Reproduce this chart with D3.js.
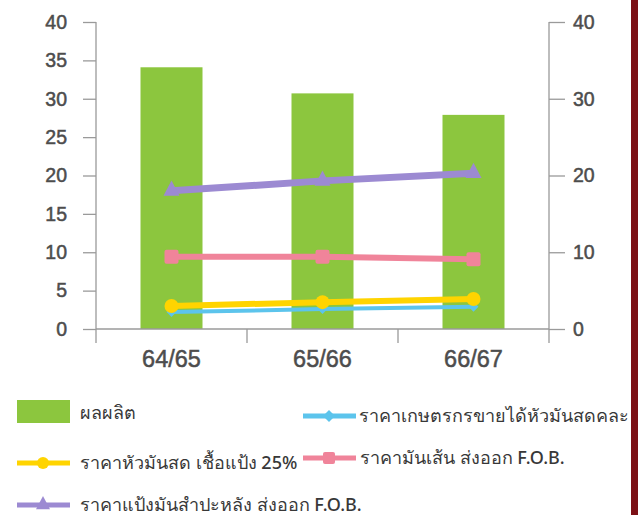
<!DOCTYPE html>
<html><head><meta charset="utf-8">
<script src="https://cdn.jsdelivr.net/npm/d3@7"></script>
<style>
html,body{margin:0;padding:0;background:#fff;}
svg{display:block;}
.num{font-family:"Liberation Sans",Arial,sans-serif;}
.leg{font-family:"Noto Sans","Liberation Sans",sans-serif;}
</style></head>
<body>
<script>
const categories = ["64/65","65/66","66/67"];
const production = [34.1, 30.7, 27.9];
const farmPrice = [2.2, 2.6, 2.9];
const freshRootPrice = [3.0, 3.5, 3.9];
const chipPrice = [9.4, 9.4, 9.1];
const starchPrice = [18.0, 19.3, 20.3];
const leftTicks = [0,5,10,15,20,25,30,35,40];
const rightTicks = [0,10,20,30,40];
const lineSeries = [
  {name:"ราคาเกษตรกรขายได้หัวมันสดคละ", values: farmPrice, color:"#5cc4ec", width:4, marker:"diamond"},
  {name:"ราคาหัวมันสด เชื้อแป้ง 25%", values: freshRootPrice, color:"#ffd400", width:6, marker:"circle"},
  {name:"ราคามันเส้น ส่งออก F.O.B.", values: chipPrice, color:"#f0849a", width:6, marker:"square"},
  {name:"ราคาแป้งมันสำปะหลัง ส่งออก F.O.B.", values: starchPrice, color:"#9c8ad2", width:7, marker:"triangle"}
];
const barName = "ผลผลิต";

const W = 638, H = 515;
const svg = d3.select("body").append("svg").attr("width", W).attr("height", H);
svg.append("rect").attr("x",0).attr("y",0).attr("width",W).attr("height",H).attr("fill","#fff");

const x0 = 96, x1 = 549, yTop = 22, yBot = 329;
const x = d3.scaleBand().domain(categories).range([x0, x1]).paddingInner(0).paddingOuter(0);
const y = d3.scaleLinear().domain([0,40]).range([yBot, yTop]);
const barW = 62;

// bars
svg.append("g").selectAll("rect").data(categories).join("rect")
  .attr("x", d => x(d) + x.bandwidth()/2 - barW/2)
  .attr("y", (d,i) => y(production[i]))
  .attr("width", barW)
  .attr("height", (d,i) => yBot - y(production[i]))
  .attr("fill", "#8cc63e");

const axisColor = "#9a9a9a";
const numColor = "#4d4d4d";
// left axis
const gl = svg.append("g").attr("transform", `translate(${x0},0)`)
  .call(d3.axisLeft(y).tickValues(leftTicks).tickSize(13).tickPadding(16).tickFormat(d3.format("d")));
gl.select(".domain").remove();
gl.append("line").attr("x1",0).attr("x2",0).attr("y1",yTop).attr("y2",343).attr("stroke",axisColor).attr("stroke-width",1.3);
// right axis
const gr = svg.append("g").attr("transform", `translate(${x1},0)`)
  .call(d3.axisRight(y).tickValues(rightTicks).tickSize(16).tickPadding(8).tickFormat(d3.format("d")));
gr.select(".domain").remove();
gr.append("line").attr("x1",0).attr("x2",0).attr("y1",yTop).attr("y2",343).attr("stroke",axisColor).attr("stroke-width",1.3);
[gl, gr].forEach(g => {
  g.attr("font-family", null).attr("font-size", null);
  g.selectAll(".tick line").attr("stroke", axisColor).attr("stroke-width",1.3);
  g.selectAll(".tick text").attr("class","num").attr("fill",numColor)
    .attr("stroke",numColor).attr("stroke-width",0.5)
    .style("font-size","19.5px");
});
// bottom axis
svg.append("line").attr("x1",x0).attr("x2",x1).attr("y1",yBot).attr("y2",yBot).attr("stroke",axisColor).attr("stroke-width",1.3);
const bounds = categories.slice(1).map(c => x(c));
svg.append("g").selectAll("line").data(bounds).join("line")
  .attr("x1", d=>d).attr("x2", d=>d).attr("y1", yBot).attr("y2", 343)
  .attr("stroke", axisColor).attr("stroke-width",1.3);
svg.append("g").selectAll("text").data(categories).join("text")
  .attr("class","num")
  .attr("x", d => x(d) + x.bandwidth()/2).attr("y", 367)
  .attr("text-anchor","middle").attr("fill",numColor)
  .attr("stroke",numColor).attr("stroke-width",0.5)
  .style("font-size","23.5px")
  .text(d=>d);

function marker(g, type, cx, cy, color, s) {
  if (type === "circle") g.append("circle").attr("cx",cx).attr("cy",cy).attr("r",s).attr("fill",color);
  else if (type === "square") g.append("rect").attr("x",cx-s).attr("y",cy-s).attr("width",2*s).attr("height",2*s).attr("rx",2).attr("fill",color);
  else if (type === "diamond") g.append("path").attr("d",`M${cx},${cy-s}L${cx+s},${cy}L${cx},${cy+s}L${cx-s},${cy}Z`).attr("fill",color);
  else if (type === "triangle") g.append("path").attr("d",`M${cx},${cy-s*1.3}L${cx+s},${cy+s*0.6}L${cx-s},${cy+s*0.6}Z`).attr("fill",color);
}

const cx = d => x(d) + x.bandwidth()/2;
lineSeries.forEach(s => {
  const g = svg.append("g");
  const line = d3.line().x((d,i) => cx(categories[i])).y(d => y(d));
  g.append("path").attr("d", line(s.values)).attr("fill","none").attr("stroke",s.color).attr("stroke-width",s.width);
  s.values.forEach((v,i) => marker(g, s.marker, cx(categories[i]), y(v), s.color, s.marker==="diamond"?5:(s.marker==="triangle"?8:7)));
});

// legend
const lg = svg.append("g");
const legFont = "18px";
lg.append("rect").attr("x",17).attr("y",400).attr("width",53).attr("height",23).attr("fill","#8cc63e");
lg.append("text").attr("class","leg").attr("x",80).attr("y",419).style("font-size",legFont).style("font-weight","500").attr("fill","#383838").text(barName);
const legPos = [
  {x:303, y:416, tx:359},
  {x:17, y:463, tx:80},
  {x:303, y:458, tx:360},
  {x:17, y:505, tx:80}
];
lineSeries.forEach((s,i) => {
  const p = legPos[i];
  lg.append("line").attr("x1",p.x).attr("x2",p.x+53).attr("y1",p.y).attr("y2",p.y).attr("stroke",s.color).attr("stroke-width",5);
  marker(lg, s.marker, p.x+26, p.y, s.color, s.marker==="triangle"?7:6);
  lg.append("text").attr("class","leg").attr("x",p.tx).attr("y",p.y+6).style("font-size",legFont).style("font-weight","500").attr("fill","#383838").text(s.name);
});
// right border drawn on top so long legend text ends at it
svg.append("rect").attr("x",631).attr("y",0).attr("width",7).attr("height",H).attr("fill","#7c1015");
</script>
</body></html>
